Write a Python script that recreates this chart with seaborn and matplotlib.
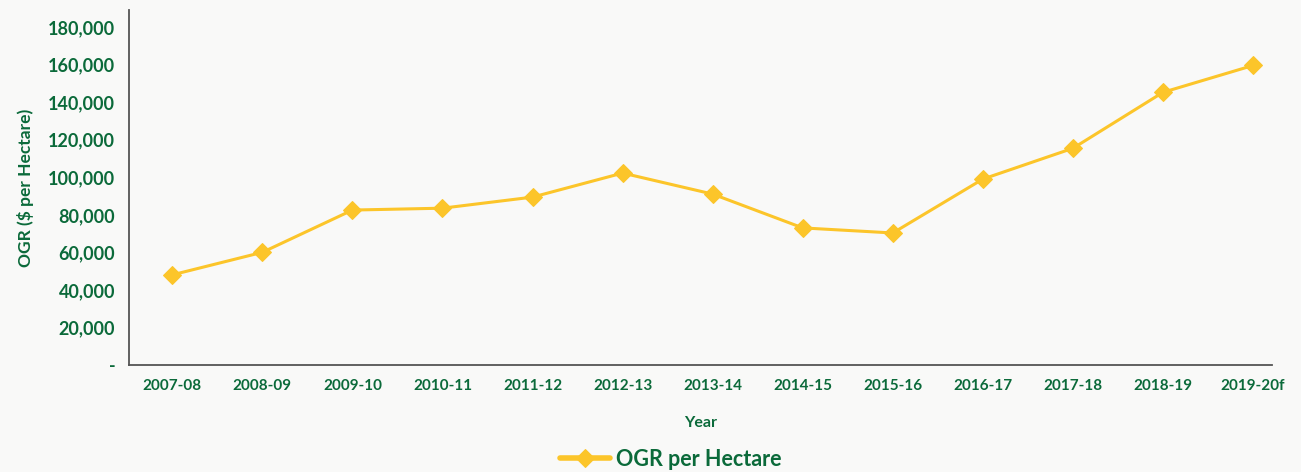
import matplotlib.pyplot as plt
import matplotlib.ticker as mticker
import seaborn as sns
import pandas as pd

years = ["2007-08", "2008-09", "2009-10", "2010-11", "2011-12", "2012-13", "2013-14",
         "2014-15", "2015-16", "2016-17", "2017-18", "2018-19", "2019-20f"]
ogr_per_hectare = [48000, 60000, 82500, 83500, 89400, 102200, 91000,
                   73000, 70300, 99000, 115400, 145200, 159500]

green = "#0b6a3a"
yellow = "#fcc52a"
bg = "#f9f9f8"

sns.set_style("white")
plt.rcParams["font.family"] = ["Lato", "DejaVu Sans"]

df = pd.DataFrame({"Year": years, "OGR per Hectare": ogr_per_hectare})

fig = plt.figure(figsize=(13.01, 4.72), dpi=100, facecolor=bg)
ax = fig.add_axes([0.0992, 0.2267, 0.8785, 0.752])
ax.set_facecolor(bg)

sns.lineplot(data=df, x="Year", y="OGR per Hectare", ax=ax, color=yellow, linewidth=2.2,
             marker="D", markersize=9, markeredgecolor=yellow, label="OGR per Hectare", sort=False)

ax.set_xlim(-0.48, 12.21)
ax.set_ylim(0, 189000)
ax.set_yticks(range(0, 180001, 20000))
ax.yaxis.set_major_formatter(mticker.FuncFormatter(lambda v, p: "-" if v == 0 else f"{int(v):,}"))

for s in ["top", "right"]:
    ax.spines[s].set_visible(False)
for s in ["left", "bottom"]:
    ax.spines[s].set_color("#555555")
    ax.spines[s].set_linewidth(1.3)

ax.tick_params(axis="y", labelsize=13, colors=green, length=0, pad=10)
ax.tick_params(axis="x", labelsize=11, colors=green, length=0, pad=10)
for lbl in ax.get_xticklabels() + ax.get_yticklabels():
    lbl.set_fontweight("bold")

ax.set_xlabel("Year", color=green, fontsize=11.5, fontweight="bold", labelpad=17)
ax.set_ylabel("OGR ($ per Hectare)", color=green, fontsize=12.5, fontweight="bold", labelpad=10)

leg = ax.legend(loc="center", bbox_to_anchor=(0.474, -0.265), frameon=False, fontsize=15.5,
                handlelength=2.3, handletextpad=0.3)
for h in leg.legend_handles:
    h.set_linewidth(4)
for t in leg.get_texts():
    t.set_color(green)
    t.set_fontweight("bold")

fig.savefig("out.png", dpi=100, facecolor=bg)
